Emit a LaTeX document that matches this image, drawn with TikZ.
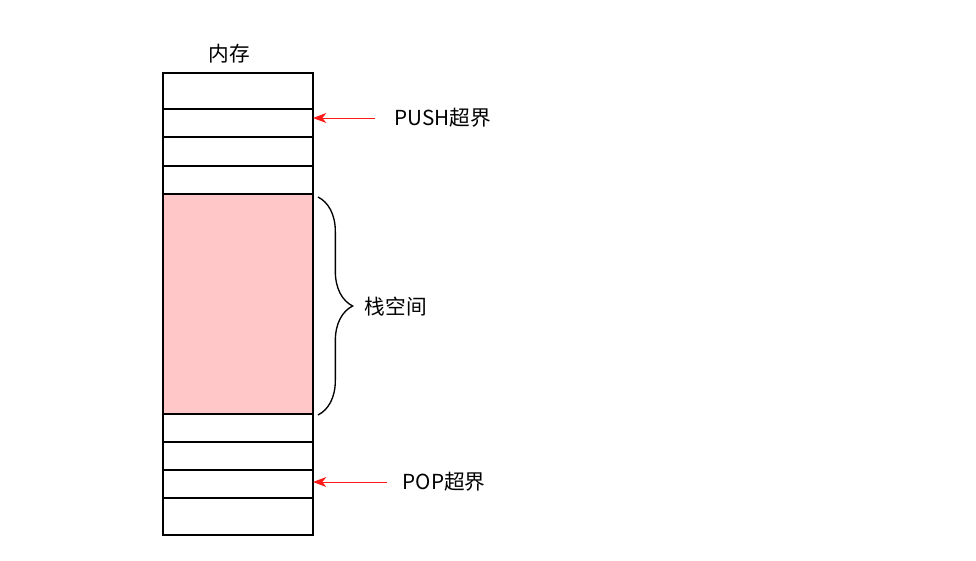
\documentclass[tikz,border=0pt]{standalone}
\usepackage{fontspec}
\setmainfont{Noto Sans CJK SC}
\usetikzlibrary{arrows.meta,decorations.pathreplacing,positioning}
\definecolor{stackpink}{HTML}{FFC7C7}
\definecolor{overred}{HTML}{FF1A1A}

\begin{document}
\begin{tikzpicture}[x=0.75pt, y=-0.75pt, every node/.style={font=\fontsize{15.5}{18}\selectfont}]
                \useasboundingbox (0,0) rectangle (976,561);
                \tikzset{cell/.style={rectangle, draw, line width=0.8pt, minimum width=112.5pt, inner sep=0pt, outer sep=0pt},
                         overarrow/.style={-{Stealth[length=10pt, width=7.5pt, inset=3pt]}, overred, line width=0.7pt}}

                % Memory cells
                \node[cell, minimum height=27pt, anchor=north west] (c1) at (163,73) {};
                \node[cell, minimum height=21pt, below=0pt of c1] (c2) {};
                \node[cell, minimum height=21.75pt, below=0pt of c2] (c3) {};
                \node[cell, minimum height=21pt, below=0pt of c3] (c4) {};
                \node[cell, minimum height=165pt, fill=stackpink, below=0pt of c4] (c5) {};
                \node[cell, minimum height=21pt, below=0pt of c5] (c6) {};
                \node[cell, minimum height=21pt, below=0pt of c6] (c7) {};
                \node[cell, minimum height=21pt, below=0pt of c7] (c8) {};
                \node[cell, minimum height=27.75pt, below=0pt of c8] (c9) {};

                % Title
                \node[above=4pt of c1, xshift=-6.5pt] (mem) {内存};

                % Stack space brace
                \coordinate (btop) at (318,197);
                \coordinate (bbot) at (318,415);
                \draw[line width=1pt, decorate, decoration={brace, amplitude=26pt}] (btop) -- (bbot);
                \node[right] (stk) at (360,307) {栈空间};

                % Overflow arrows
                \node[right] (push) at (390,118) {PUSH超界};
                \node[right] (pop) at (398,482) {POP超界};
                \draw[overarrow] ([xshift=-11pt]push.west) -- (push.west -| c2.east);
                \draw[overarrow] ([xshift=-8pt]pop.west) -- (pop.west -| c8.east);
            \end{tikzpicture}
\end{document}
